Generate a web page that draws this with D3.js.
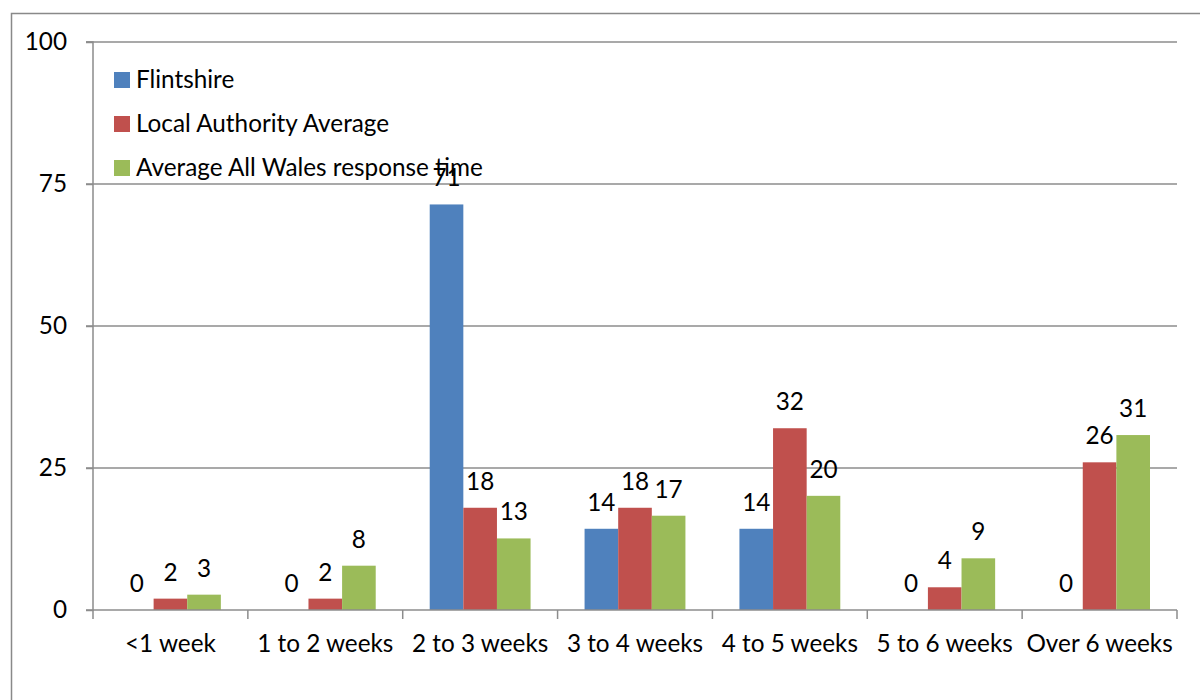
<!DOCTYPE html>
<html><head><meta charset="utf-8">
<script src="https://cdn.jsdelivr.net/npm/d3@7"></script>
<style>body{margin:0;background:#fff;} text{font-family:Lato, sans-serif;}</style>
</head><body>
<svg id="c" width="1200" height="700"></svg>
<script>
const categories = ["<1 week","1 to 2 weeks","2 to 3 weeks","3 to 4 weeks","4 to 5 weeks","5 to 6 weeks","Over 6 weeks"];
const seriesNames = ["Flintshire","Local Authority Average","Average All Wales response time"];
const flintshire = [0,0,71.4,14.3,14.3,0,0];
const localAverage = [2,2,18,18,32,4,26];
const allWales = [2.7,7.8,12.6,16.6,20.1,9.1,30.8];
const yTicks = [0,25,50,75,100];
const colors = ["#4F81BD","#C0504D","#9BBB59"];

(function(){
const FONT = "Lato, sans-serif", FS = 24.3;
const svg = d3.select("#c");
svg.append("rect").attr("x",11.5).attr("y",13.5).attr("width",1300).attr("height",800)
  .attr("fill","none").attr("stroke","#898989").attr("stroke-width",1.5);

const pL=93, pR=1177, pT=42, pB=610;
const x = d3.scaleBand().domain(categories).range([pL,pR]).paddingInner(0).paddingOuter(0);
const y = d3.scaleLinear().domain([0,100]).range([pB,pT]);
const xs = d3.scaleBand().domain([0,1,2]).range([27, x.bandwidth()-27]);
const series = [flintshire, localAverage, allWales];

// gridlines
svg.append("g").selectAll("line").data(yTicks.filter(d=>d>0)).join("line")
  .attr("x1",pL-7).attr("x2",pR).attr("y1",d=>y(d)).attr("y2",d=>y(d))
  .attr("stroke","#8c8c8c").attr("stroke-width",1.5);

// y axis
const ya = svg.append("g").attr("transform",`translate(${pL},0)`)
  .call(d3.axisLeft(y).tickValues(yTicks).tickSize(7).tickPadding(19));
ya.selectAll("path,line").attr("stroke","#8c8c8c").attr("stroke-width",1.5);
ya.select(".domain").attr("d",`M-7,${pT}H0V${pB}H-7`);
ya.selectAll("text").attr("font-size",FS).attr("fill","#000").attr("font-family",FONT);

// bars
series.forEach((s,i)=>{
  const g = svg.append("g");
  g.selectAll("rect").data(s).join("rect")
    .attr("x",(d,j)=>x(categories[j])+xs(i)).attr("width",xs.bandwidth())
    .attr("y",d=>y(d)).attr("height",d=>pB-y(d))
    .attr("fill",colors[i]);
  g.selectAll("text").data(s).join("text")
    .attr("x",(d,j)=>x(categories[j])+xs(i)+xs.bandwidth()/2)
    .attr("y",d=>y(d)-18).attr("text-anchor","middle")
    .attr("font-size",FS).attr("font-family",FONT).attr("fill","#000").text(d=>Math.round(d));
});

// x axis
const xa = svg.append("g").attr("transform",`translate(0,${pB})`)
  .call(d3.axisBottom(x).tickSize(0).tickPadding(25));
xa.select(".domain").attr("stroke","#8c8c8c").attr("stroke-width",1.5).attr("d",`M${pL},0H${pR}`);
xa.selectAll("text").attr("font-size",FS).attr("fill","#000").attr("font-family",FONT);
svg.append("g").selectAll("line").data(d3.range(categories.length+1)).join("line")
  .attr("x1",d=>pL+d*x.step()).attr("x2",d=>pL+d*x.step())
  .attr("y1",pB).attr("y2",pB+9).attr("stroke","#8c8c8c").attr("stroke-width",1.5);

// legend
const lg = svg.append("g");
seriesNames.forEach((n,i)=>{
  const cy = 80 + i*44;
  lg.append("rect").attr("x",114).attr("y",cy-8).attr("width",16).attr("height",16).attr("fill",colors[i]);
  lg.append("text").attr("x",136).attr("y",cy+8).attr("font-size",FS).attr("font-family",FONT).attr("fill","#000").text(n);
});
})();
</script>
</body></html>
